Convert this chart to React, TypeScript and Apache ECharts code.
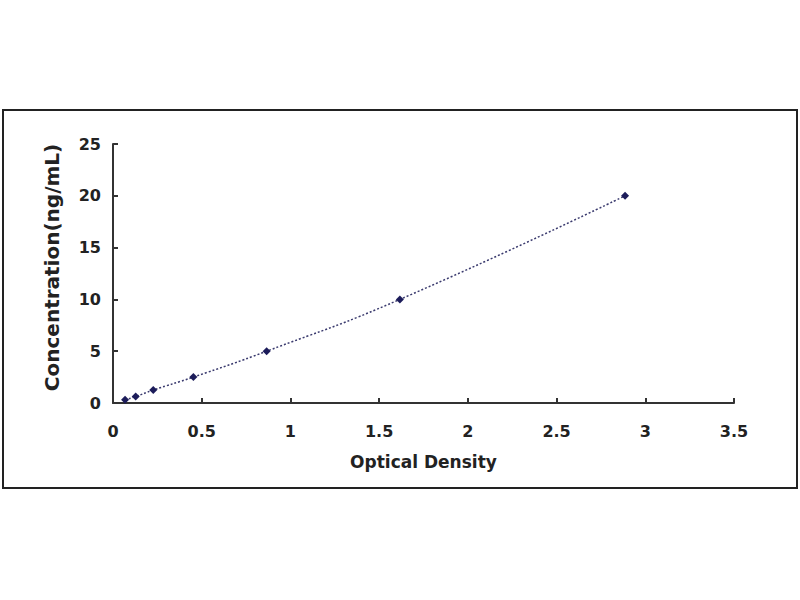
import * as echarts from "echarts";
import { useEffect, useRef } from "react";

const opticalDensity = [0.068, 0.128, 0.227, 0.453, 0.866, 1.617, 2.886];
const concentration = [0.312, 0.625, 1.25, 2.5, 5, 10, 20];
const xTicks = [0, 0.5, 1, 1.5, 2, 2.5, 3, 3.5];
const yTicks = [0, 5, 10, 15, 20, 25];

const font = "'DejaVu Sans', sans-serif";

export default function App() {
	const ref = useRef<HTMLDivElement>(null);
	useEffect(() => {
		if (!ref.current) return;
		const chart = echarts.init(ref.current, null, { renderer: "svg" });
		const axisCommon = {
			type: "value" as const,
			axisLine: { show: true, lineStyle: { color: "#333", width: 2 } },
			axisTick: { show: true, inside: true, length: 5, lineStyle: { color: "#333", width: 2 } },
			splitLine: { show: false },
			axisLabel: { color: "#222", fontSize: 16, fontWeight: "bold", fontFamily: font },
			nameTextStyle: { color: "#222", fontSize: 17, fontWeight: "bold", fontFamily: font },
			nameLocation: "middle" as const,
		};
		chart.setOption({
			animation: false,
			backgroundColor: "#fff",
			grid: { left: 113, right: 66, top: 144, bottom: 197 },
			xAxis: {
				...axisCommon,
				min: xTicks[0],
				max: xTicks[xTicks.length - 1],
				interval: 0.5,
				name: "Optical Density",
				nameGap: 50,
				axisLabel: { ...axisCommon.axisLabel, margin: 20 },
			},
			yAxis: {
				...axisCommon,
				min: yTicks[0],
				max: yTicks[yTicks.length - 1],
				interval: 5,
				name: "Concentration(ng/mL)",
				nameGap: 51,
				nameTextStyle: { ...axisCommon.nameTextStyle, fontSize: 20, padding: [0, 0, 0, 12] },
				axisLabel: { ...axisCommon.axisLabel, margin: 12 },
			},
			graphic: [
				{
					type: "rect",
					shape: { x: 3, y: 110, width: 794, height: 378 },
					style: { fill: "none", stroke: "#222", lineWidth: 2 },
					silent: true,
				},
			],
			series: [
				{
					type: "line",
					data: opticalDensity.map((x, i) => [x, concentration[i]]),
					smooth: true,
					symbol: "diamond",
					symbolSize: 8,
					itemStyle: { color: "#1c1c5a" },
					lineStyle: { color: "#3a3a6e", width: 1.5, type: [2, 2] },
				},
			],
		});
		return () => chart.dispose();
	}, []);
	return <div ref={ref} style={{ position: "fixed", left: 0, top: 0, width: 800, height: 600 }} />;
}
